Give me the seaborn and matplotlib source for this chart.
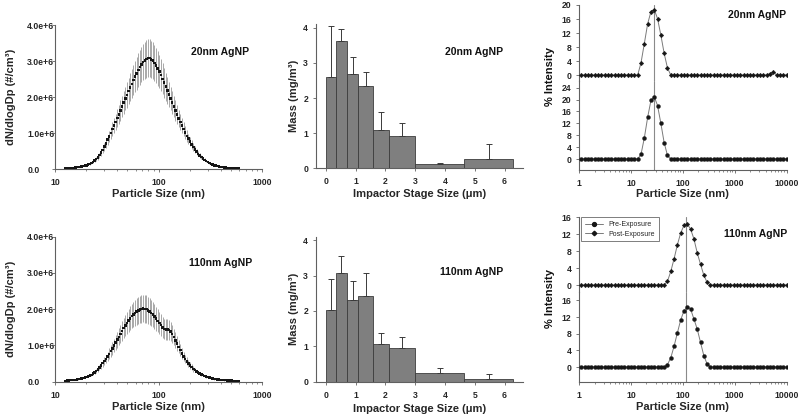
import numpy as np
import matplotlib
matplotlib.use("Agg")
import matplotlib.pyplot as plt
from matplotlib.lines import Line2D
from matplotlib.ticker import FuncFormatter, FixedLocator, LogLocator, NullFormatter
import seaborn as sns

sns.set_theme(style="ticks")
plt.rcParams["font.family"] = ["Liberation Sans", "DejaVu Sans"]
plt.rcParams["font.weight"] = "bold"

W, H = 800, 417

# ── SMPS size distributions (channel midpoints, nm; values in 1e6 #/cm3) ─────
SMPS_D = [12.6, 13.1, 13.6, 14.1, 14.6, 15.1, 15.7, 16.3, 16.8, 17.5,
          18.1, 18.8, 19.5, 20.2, 20.9, 21.7, 22.5, 23.3, 24.1, 25.0,
          25.9, 26.9, 27.9, 28.9, 30.0, 31.1, 32.2, 33.4, 34.6, 35.9,
          37.2, 38.5, 40.0, 41.4, 42.9, 44.5, 46.1, 47.8, 49.6, 51.4,
          53.3, 55.2, 57.3, 59.4, 61.5, 63.8, 66.1, 68.5, 71.0, 73.7,
          76.4, 79.1, 82.0, 85.1, 88.2, 91.4, 94.7, 98.2, 101.8, 105.5,
          109.4, 113.4, 117.6, 121.9, 126.3, 131.0, 135.8, 140.7, 145.9, 151.2,
          156.8, 162.5, 168.5, 174.7, 181.1, 187.7, 194.6, 201.7, 209.1, 216.7,
          224.7, 232.9, 241.4, 250.3, 259.5, 269.0, 278.8, 289.0, 299.6, 310.6,
          322.0, 333.8, 346.0, 358.7, 371.8, 385.4, 399.5, 414.2, 429.4, 445.1,
          461.4, 478.3, 495.8, 514.0, 532.8, 552.3, 572.5, 593.5]

N20_MEAN = [0.02, 0.02, 0.03, 0.03, 0.04, 0.04, 0.05, 0.06, 0.06, 0.07,
            0.08, 0.09, 0.10, 0.11, 0.13, 0.15, 0.17, 0.20, 0.24, 0.29,
            0.33, 0.39, 0.46, 0.54, 0.63, 0.72, 0.82, 0.91, 1.01, 1.11,
            1.21, 1.31, 1.42, 1.52, 1.63, 1.74, 1.85, 1.96, 2.06, 2.17,
            2.27, 2.37, 2.47, 2.57, 2.66, 2.75, 2.83, 2.91, 2.97, 3.02,
            3.06, 3.08, 3.08, 3.05, 3.01, 2.95, 2.88, 2.80, 2.71, 2.61,
            2.51, 2.40, 2.29, 2.18, 2.07, 1.96, 1.85, 1.74, 1.63, 1.52,
            1.41, 1.31, 1.21, 1.11, 1.02, 0.93, 0.85, 0.77, 0.69, 0.62,
            0.55, 0.49, 0.43, 0.38, 0.34, 0.30, 0.26, 0.23, 0.20, 0.17,
            0.15, 0.13, 0.11, 0.10, 0.09, 0.08, 0.07, 0.06, 0.05, 0.05,
            0.04, 0.04, 0.03, 0.03, 0.03, 0.02, 0.02, 0.02]

N20_SD = [0.00, 0.00, 0.00, 0.00, 0.01, 0.01, 0.01, 0.01, 0.01, 0.01,
          0.01, 0.01, 0.01, 0.01, 0.01, 0.02, 0.02, 0.03, 0.04, 0.05,
          0.06, 0.07, 0.08, 0.09, 0.11, 0.12, 0.14, 0.15, 0.17, 0.19,
          0.21, 0.22, 0.24, 0.26, 0.28, 0.30, 0.31, 0.33, 0.35, 0.37,
          0.39, 0.40, 0.42, 0.44, 0.45, 0.47, 0.48, 0.49, 0.50, 0.51,
          0.52, 0.53, 0.53, 0.52, 0.51, 0.50, 0.49, 0.48, 0.46, 0.44,
          0.43, 0.41, 0.39, 0.37, 0.35, 0.33, 0.31, 0.30, 0.28, 0.26,
          0.24, 0.22, 0.21, 0.19, 0.17, 0.16, 0.14, 0.13, 0.12, 0.11,
          0.09, 0.08, 0.07, 0.06, 0.06, 0.05, 0.04, 0.04, 0.03, 0.03,
          0.03, 0.02, 0.02, 0.02, 0.02, 0.01, 0.01, 0.01, 0.01, 0.01,
          0.01, 0.01, 0.01, 0.01, 0.01, 0.00, 0.00, 0.00]

N110_MEAN = [0.02, 0.03, 0.03, 0.04, 0.04, 0.05, 0.05, 0.06, 0.07, 0.08,
             0.09, 0.10, 0.12, 0.13, 0.15, 0.17, 0.19, 0.22, 0.26, 0.30,
             0.34, 0.39, 0.45, 0.51, 0.57, 0.63, 0.69, 0.77, 0.84, 0.92,
             1.00, 1.08, 1.16, 1.24, 1.32, 1.40, 1.48, 1.55, 1.62, 1.69,
             1.75, 1.81, 1.86, 1.90, 1.94, 1.97, 1.99, 2.01, 2.02, 2.01,
             2.00, 1.97, 1.94, 1.90, 1.85, 1.80, 1.74, 1.68, 1.62, 1.56,
             1.50, 1.46, 1.44, 1.44, 1.42, 1.38, 1.31, 1.23, 1.14, 1.05,
             0.96, 0.87, 0.78, 0.70, 0.63, 0.56, 0.50, 0.45, 0.40, 0.35,
             0.32, 0.28, 0.25, 0.22, 0.20, 0.18, 0.16, 0.14, 0.13, 0.11,
             0.10, 0.09, 0.08, 0.07, 0.06, 0.06, 0.05, 0.05, 0.04, 0.04,
             0.03, 0.03, 0.03, 0.03, 0.02, 0.02, 0.02, 0.02]

N110_SD = [0.00, 0.00, 0.00, 0.00, 0.00, 0.01, 0.01, 0.01, 0.01, 0.01,
           0.01, 0.01, 0.01, 0.01, 0.02, 0.02, 0.02, 0.03, 0.04, 0.05,
           0.06, 0.07, 0.09, 0.10, 0.11, 0.12, 0.13, 0.15, 0.16, 0.17,
           0.19, 0.21, 0.22, 0.24, 0.25, 0.27, 0.28, 0.29, 0.31, 0.32,
           0.33, 0.34, 0.35, 0.36, 0.37, 0.37, 0.38, 0.38, 0.38, 0.38,
           0.38, 0.37, 0.37, 0.36, 0.35, 0.34, 0.33, 0.32, 0.31, 0.30,
           0.29, 0.28, 0.28, 0.28, 0.27, 0.26, 0.25, 0.23, 0.22, 0.20,
           0.18, 0.17, 0.15, 0.13, 0.12, 0.11, 0.10, 0.09, 0.08, 0.07,
           0.06, 0.05, 0.05, 0.04, 0.04, 0.03, 0.03, 0.03, 0.02, 0.02,
           0.02, 0.02, 0.02, 0.01, 0.01, 0.01, 0.01, 0.01, 0.01, 0.01,
           0.01, 0.01, 0.01, 0.01, 0.00, 0.00, 0.00, 0.00]

# ── Impactor stages (um) and mass (mg/m3) ─────────────────────────────────────
STAGE_EDGES = [0.0, 0.33, 0.72, 1.09, 1.60, 2.13, 3.00, 4.65, 6.30]
MASS20 = [2.59, 3.62, 2.68, 2.35, 1.09, 0.91, 0.11, 0.27]
MASS20_ERR = [1.47, 0.36, 0.48, 0.38, 0.50, 0.39, 0.05, 0.42]
MASS110 = [2.03, 3.08, 2.31, 2.42, 1.06, 0.94, 0.25, 0.09]
MASS110_ERR = [0.87, 0.47, 0.55, 0.65, 0.33, 0.33, 0.13, 0.12]

# ── DLS intensity distributions (nm, %) ──────────────────────────────────────
DLS_D = [1.117, 1.294, 1.499, 1.736, 2.01, 2.328, 2.696, 3.122, 3.615, 4.187,
         4.849, 5.615, 6.503, 7.531, 8.721, 10.1, 11.7, 13.54, 15.69, 18.17,
         21.04, 24.36, 28.21, 32.67, 37.84, 43.82, 50.75, 58.77, 68.06, 78.82,
         91.28, 105.7, 122.4, 141.8, 164.2, 190.1, 220.2, 255.0, 295.3, 342.0,
         396.1, 458.7, 531.2, 615.1, 712.4, 825.0, 955.4, 1106, 1281, 1484,
         1718, 1990, 2305, 2669, 3091, 3580, 4145, 4801, 5560, 6439,
         7456, 8635, 10000]

DLS20_POST = [0, 0, 0, 0, 0, 0, 0, 0, 0, 0,
              0, 0, 0, 0, 0, 0, 0, 0, 3.5, 9.0,
              14.6, 18.1, 18.7, 16.1, 11.4, 6.2, 2.0, 0, 0, 0,
              0, 0, 0, 0, 0, 0, 0, 0, 0, 0,
              0, 0, 0, 0, 0, 0, 0, 0, 0, 0,
              0, 0, 0, 0, 0, 0, 0, 0.4, 0.9, 0,
              0, 0, 0]
DLS20_PRE = [0, 0, 0, 0, 0, 0, 0, 0, 0, 0,
             0, 0, 0, 0, 0, 0, 0, 0, 1.6, 7.1,
             14.0, 19.7, 21.0, 18.0, 12.0, 5.5, 1.2, 0, 0, 0,
             0, 0, 0, 0, 0, 0, 0, 0, 0, 0,
             0, 0, 0, 0, 0, 0, 0, 0, 0, 0,
             0, 0, 0, 0, 0, 0, 0, 0, 0, 0,
             0, 0, 0]
DLS110_POST = [0, 0, 0, 0, 0, 0, 0, 0, 0, 0,
               0, 0, 0, 0, 0, 0, 0, 0, 0, 0,
               0, 0, 0, 0, 0, 0, 0.9, 3.2, 6.2, 9.5,
               12.3, 14.1, 14.4, 13.2, 10.9, 7.6, 4.9, 2.3, 0.6, 0,
               0, 0, 0, 0, 0, 0, 0, 0, 0, 0,
               0, 0, 0, 0, 0, 0, 0, 0, 0, 0,
               0, 0, 0]
DLS110_PRE = [0, 0, 0, 0, 0, 0, 0, 0, 0, 0,
              0, 0, 0, 0, 0, 0, 0, 0, 0, 0,
              0, 0, 0, 0, 0, 0, 0.6, 2.2, 5.0, 8.2,
              11.3, 13.5, 14.5, 13.9, 11.5, 9.1, 5.9, 2.7, 0.7, 0,
              0, 0, 0, 0, 0, 0, 0, 0, 0, 0,
              0, 0, 0, 0, 0, 0, 0, 0, 0, 0,
              0, 0, 0]
PEAK20 = 27.7
PEAK110 = 117.0

SPINE = "#606060"
TICK_FS = 6.2
LABEL_FS = 8
NOTE_FS = 7.5


def rect(x0, y0, x1, y1):
    """pixel box (top-left origin) -> fig fraction rect"""
    return [x0 / W, 1 - y1 / H, (x1 - x0) / W, (y1 - y0) / H]


def style(ax, hide_bottom=False):
    sns.despine(ax=ax)
    for s in ["left", "bottom"]:
        ax.spines[s].set_color(SPINE)
        ax.spines[s].set_linewidth(0.8)
    if hide_bottom:
        ax.spines["bottom"].set_visible(False)
    ax.tick_params(which="major", length=2.5, width=0.6, color=SPINE,
                   labelsize=TICK_FS, pad=3)
    ax.tick_params(axis="x", pad=4)
    ax.tick_params(which="minor", length=1.5, width=0.5, color=SPINE)
    ax.set_facecolor("none")


def labels(ax, xlab, ylab, xy_x, xy_y):
    # centre-anchored axis labels, positions in axes fractions
    if xlab:
        ax.set_xlabel(xlab, fontsize=LABEL_FS, fontweight="bold")
        ax.xaxis.label.set_va("center")
        ax.xaxis.set_label_coords(0.5, xy_x)
    else:
        ax.set_xlabel("")
    if ylab:
        ax.set_ylabel(ylab, fontsize=LABEL_FS, fontweight="bold")
        ax.yaxis.label.set_va("center")
        ax.yaxis.set_label_coords(xy_y, 0.5)
    else:
        ax.set_ylabel("")


def note(x, y, txt, **kw):
    plt.gcf().text(x / W, 1 - y / H, txt, ha="center", va="center",
                   fontsize=kw.get("size", NOTE_FS), fontweight="bold",
                   color="#111111", rotation=kw.get("rotation", 0))


fig = plt.figure(figsize=(W / 100, H / 100), dpi=100)


# ── SMPS panels ──────────────────────────────────────────────────────────────
def smps(box, mean, sd, label_y):
    ax = fig.add_axes(rect(*box))
    m = np.array(mean) * 1e6
    e = np.array(sd) * 1e6
    ax.vlines(SMPS_D, m - e, m + e, color="#9a9a9a", lw=0.6, zorder=1)
    sns.scatterplot(x=SMPS_D, y=m, ax=ax, marker="s", s=3.2,
                    color="#151515", edgecolor="none", legend=False, zorder=3)
    ax.set_xscale("log")
    ax.set_xlim(10, 1000)
    ax.set_ylim(0, 4e6)
    ax.xaxis.set_major_locator(FixedLocator([10, 100, 1000]))
    ax.xaxis.set_minor_locator(LogLocator(base=10, subs=np.arange(2, 10)))
    ax.xaxis.set_minor_formatter(NullFormatter())
    ax.xaxis.set_major_formatter(FuncFormatter(lambda v, p: f"{v:g}"))
    ax.set_yticks([0, 1e6, 2e6, 3e6, 4e6])
    ax.yaxis.set_major_formatter(
        FuncFormatter(lambda v, p: "0.0" if v == 0 else f"{v / 1e6:.1f}e+6"))
    style(ax)
    # Excel-style left aligned value labels
    ax.tick_params(axis="y", pad=17.5)
    for t in ax.get_yticklabels():
        t.set_ha("left")
    labels(ax, "Particle Size (nm)", "dN/dlogDp (#/cm³)", label_y, -0.213)
    return ax


smps((55, 25, 262, 169.3), N20_MEAN, N20_SD, -0.171)
smps((55, 236.7, 262, 381.7), N110_MEAN, N110_SD, -0.172)
note(220, 52, "20nm AgNP")
note(220.5, 263.3, "110nm AgNP")


# ── Impactor panels ──────────────────────────────────────────────────────────
def impactor(box, mass, err, ytop, label_y):
    ax = fig.add_axes(rect(*box))
    edges = np.array(STAGE_EDGES)
    lefts = edges[:-1]
    widths = np.diff(edges)
    ax.bar(lefts, mass, width=widths, align="edge", color="#7f7f7f",
           edgecolor="#3c3c3c", linewidth=0.6, zorder=2)
    ax.errorbar(lefts + widths / 2, mass, yerr=[np.zeros(len(mass)), err],
                fmt="none", ecolor="#3a3a3a", elinewidth=0.7, capsize=2,
                capthick=0.7, zorder=3)
    ax.set_xlim(-0.336, 6.63)
    ax.set_ylim(0, ytop)
    ax.set_xticks(range(7))
    ax.set_yticks(range(5))
    style(ax)
    labels(ax, "Impactor Stage Size (μm)", "Mass (mg/m³)", label_y, -0.105)
    return ax


impactor((315.7, 24, 523.3, 168.3), MASS20, MASS20_ERR, 4.11, -0.178)
impactor((315.7, 236.7, 523.3, 381.7), MASS110, MASS110_ERR, 4.1, -0.19)
note(474, 51.7, "20nm AgNP")
note(471.5, 271.7, "110nm AgNP")


# ── DLS panels (two stacked sub-axes each) ───────────────────────────────────
def dls(top_box, bot_box, post, pre, peak, top_lim, bot_lim, top_ticks,
        bot_ticks, label_y):
    ax_b = fig.add_axes(rect(*bot_box))
    ax_t = fig.add_axes(rect(*top_box), sharex=ax_b)
    for ax, vals, mk, ms in [(ax_t, post, "D", 2.3), (ax_b, pre, "o", 2.8)]:
        ax.axvline(peak, color="#8a8a8a", lw=0.8, zorder=1)
        sns.lineplot(x=DLS_D, y=vals, ax=ax, color="#7a7a7a", lw=0.7,
                     marker=mk, markersize=ms, markerfacecolor="#161616",
                     markeredgecolor="#161616", markeredgewidth=0.3, zorder=3)
    ax_b.set_xscale("log")
    ax_b.set_xlim(1, 10000)
    ax_b.xaxis.set_major_locator(FixedLocator([1, 10, 100, 1000, 10000]))
    ax_b.xaxis.set_minor_locator(LogLocator(base=10, subs=np.arange(2, 10)))
    ax_b.xaxis.set_minor_formatter(NullFormatter())
    ax_b.xaxis.set_major_formatter(FuncFormatter(lambda v, p: f"{v:g}"))
    ax_t.set_ylim(*top_lim)
    ax_b.set_ylim(*bot_lim)
    ax_t.set_yticks(top_ticks)
    ax_b.set_yticks(bot_ticks)
    style(ax_b)
    style(ax_t, hide_bottom=True)
    ax_t.tick_params(axis="x", which="both", bottom=False, labelbottom=False)
    labels(ax_t, None, None, 0, 0)
    labels(ax_b, "Particle Size (nm)", None, label_y, 0)
    return ax_t, ax_b


dls((579, 5, 786.5, 81), (579, 81, 786.5, 170.3), DLS20_POST, DLS20_PRE,
    PEAK20, (-1.71, 20), (-3.8, 26.26), [0, 4, 8, 12, 16, 20],
    [0, 4, 8, 12, 16, 20, 24], -0.269)
ax_t, ax_b = dls((579, 217.3, 786.5, 292), (579, 292, 786.5, 382.3),
                 DLS110_POST, DLS110_PRE, PEAK110, (-1.65, 16), (-3.67, 18.0),
                 [0, 4, 8, 12, 16], [0, 4, 8, 12, 16], -0.27)

handles = [Line2D([], [], color="#7a7a7a", lw=0.7, marker="o", markersize=2.8,
                  markerfacecolor="#161616", markeredgecolor="#161616"),
           Line2D([], [], color="#7a7a7a", lw=0.7, marker="D", markersize=2.3,
                  markerfacecolor="#161616", markeredgecolor="#161616")]
leg = ax_t.legend(handles, ["Pre-Exposure", "Post-Exposure"], loc="upper left",
                  bbox_to_anchor=(0.01, 1.0), borderaxespad=0, frameon=True,
                  fancybox=False, handlelength=2.6, handletextpad=0.8,
                  borderpad=0.55, labelspacing=0.35,
                  prop={"size": 5, "weight": "normal"})
leg.get_frame().set_edgecolor("#444444")
leg.get_frame().set_linewidth(0.6)

note(550, 77, "% Intensity", size=LABEL_FS, rotation=90)
note(550, 298, "% Intensity", size=LABEL_FS, rotation=90)
note(756.7, 15, "20nm AgNP")
note(755.3, 234, "110nm AgNP")

fig.savefig("out.png", dpi=100, facecolor="white")
